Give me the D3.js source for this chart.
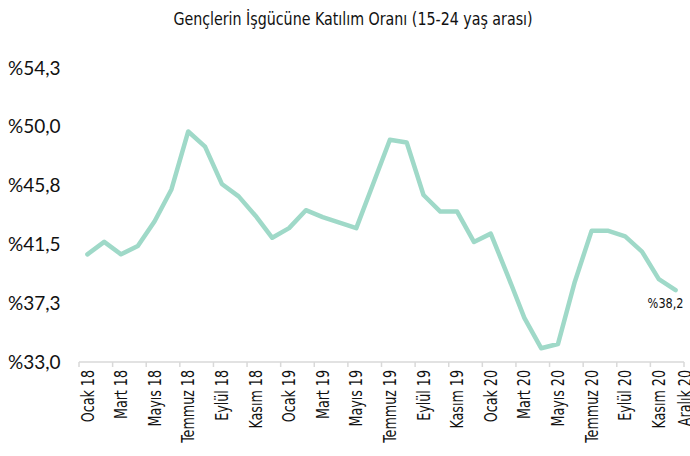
<!DOCTYPE html>
<html lang="tr">
  <head>
    <meta charset="UTF-8" />
    <title>Gençlerin İşgücüne Katılım Oranı</title>
    <style>
      body { margin: 0; background: #fff; }
      svg { display: block; }
    </style>
  </head>
  <body>
    <svg width="690" height="456"></svg>
    <script src="https://cdnjs.cloudflare.com/ajax/libs/d3/7.8.5/d3.min.js"></script>
    <script>
      var monthNames = ["Ocak", "Şubat", "Mart", "Nisan", "Mayıs", "Haziran",
        "Temmuz", "Ağustos", "Eylül", "Ekim", "Kasım", "Aralık"];
      var years = ["18", "19", "20"];

      // participation rate, Jan 2018 - Dec 2020
      var rates = [
        40.8, 41.7, 40.8, 41.4, 43.2, 45.5, 49.7, 48.6, 45.9, 45.0, 43.6, 42.0,
        42.7, 44.0, 43.5, 43.1, 42.7, 45.9, 49.1, 48.9, 45.1, 43.9, 43.9, 41.7,
        42.3, 39.3, 36.2, 34.0, 34.3, 38.8, 42.5, 42.5, 42.1, 41.0, 39.0, 38.2
      ];

      var yTicks = [33.0, 37.26, 41.52, 45.78, 50.04, 54.3];
      var title = "Gençlerin İşgücüne Katılım Oranı (15-24 yaş arası)";

      var months = [];
      years.forEach(function (yr) {
        monthNames.forEach(function (m) {
          months.push(m + " " + yr);
        });
      });

      var svg = d3.select("svg");
      var narrow = "'Liberation Sans Narrow', 'DejaVu Sans Condensed', sans-serif";

      var x = d3.scaleBand().domain(months).range([79, 684]).padding(0);
      var y = d3.scaleLinear().domain([33, 54.3]).range([362, 68]);

      svg.append("text")
        .attr("transform", "translate(353,25) scale(0.88,1)")
        .attr("text-anchor", "middle")
        .style("font-family", narrow)
        .style("font-size", "18px")
        .attr("fill", "#111")
        .text(title);

      // y labels, no axis line
      svg.append("g")
        .selectAll("text")
        .data(yTicks)
        .enter()
        .append("text")
        .attr("x", 8)
        .attr("y", function (d) { return y(d); })
        .attr("dy", "0.35em")
        .style("font-family", "Lato, 'Open Sans', sans-serif")
        .style("font-size", "19px")
        .attr("fill", "#111")
        .text(function (d) { return "%" + d.toFixed(1).replace(".", ","); });

      // x axis line + ticks every two months
      var axis = svg.append("g");
      axis.append("line")
        .attr("x1", x.range()[0])
        .attr("x2", x.range()[1])
        .attr("y1", y(33))
        .attr("y2", y(33))
        .attr("stroke", "#d9d9d9")
        .attr("stroke-width", 1.5);

      var tickPos = months.filter(function (d, i) { return i % 2 === 0; })
        .map(function (d) { return x(d); });
      tickPos.push(x.range()[1]);
      axis.selectAll("line.tick")
        .data(tickPos)
        .enter()
        .append("line")
        .attr("class", "tick")
        .attr("x1", function (d) { return d; })
        .attr("x2", function (d) { return d; })
        .attr("y1", y(33))
        .attr("y2", y(33) + 5)
        .attr("stroke", "#d9d9d9")
        .attr("stroke-width", 1.5);

      var shown = months.filter(function (d, i) {
        return i % 2 === 0 || i === months.length - 1;
      });
      axis.selectAll("text")
        .data(shown)
        .enter()
        .append("text")
        .attr("transform", function (d, i) {
          var cx = i === shown.length - 1 ? x.range()[1] + 1 : x(d) + x.bandwidth() / 2;
          return "translate(" + cx + "," + (y(33) + 8) + ") rotate(-90) scale(0.83,1)";
        })
        .attr("text-anchor", "end")
        .attr("dy", "0.36em")
        .style("font-family", narrow)
        .style("font-size", "17px")
        .attr("fill", "#111")
        .text(function (d) { return d; });

      var line = d3.line()
        .x(function (d, i) { return x(months[i]) + x.bandwidth() / 2; })
        .y(function (d) { return y(d); });

      svg.append("path")
        .datum(rates)
        .attr("d", line)
        .attr("fill", "none")
        .attr("stroke", "#9fd9c8")
        .attr("stroke-width", 4.5)
        .attr("stroke-linejoin", "round")
        .attr("stroke-linecap", "round");

      var last = rates.length - 1;
      svg.append("text")
        .attr("transform", "translate(" + (x(months[last]) + x.bandwidth() / 2 - 10) +
          "," + (y(rates[last]) + 18) + ") scale(0.9,1)")
        .attr("text-anchor", "middle")
        .style("font-family", narrow)
        .style("font-size", "14px")
        .attr("fill", "#111")
        .text("%" + rates[last].toFixed(1).replace(".", ","));
    </script>
  </body>
</html>
